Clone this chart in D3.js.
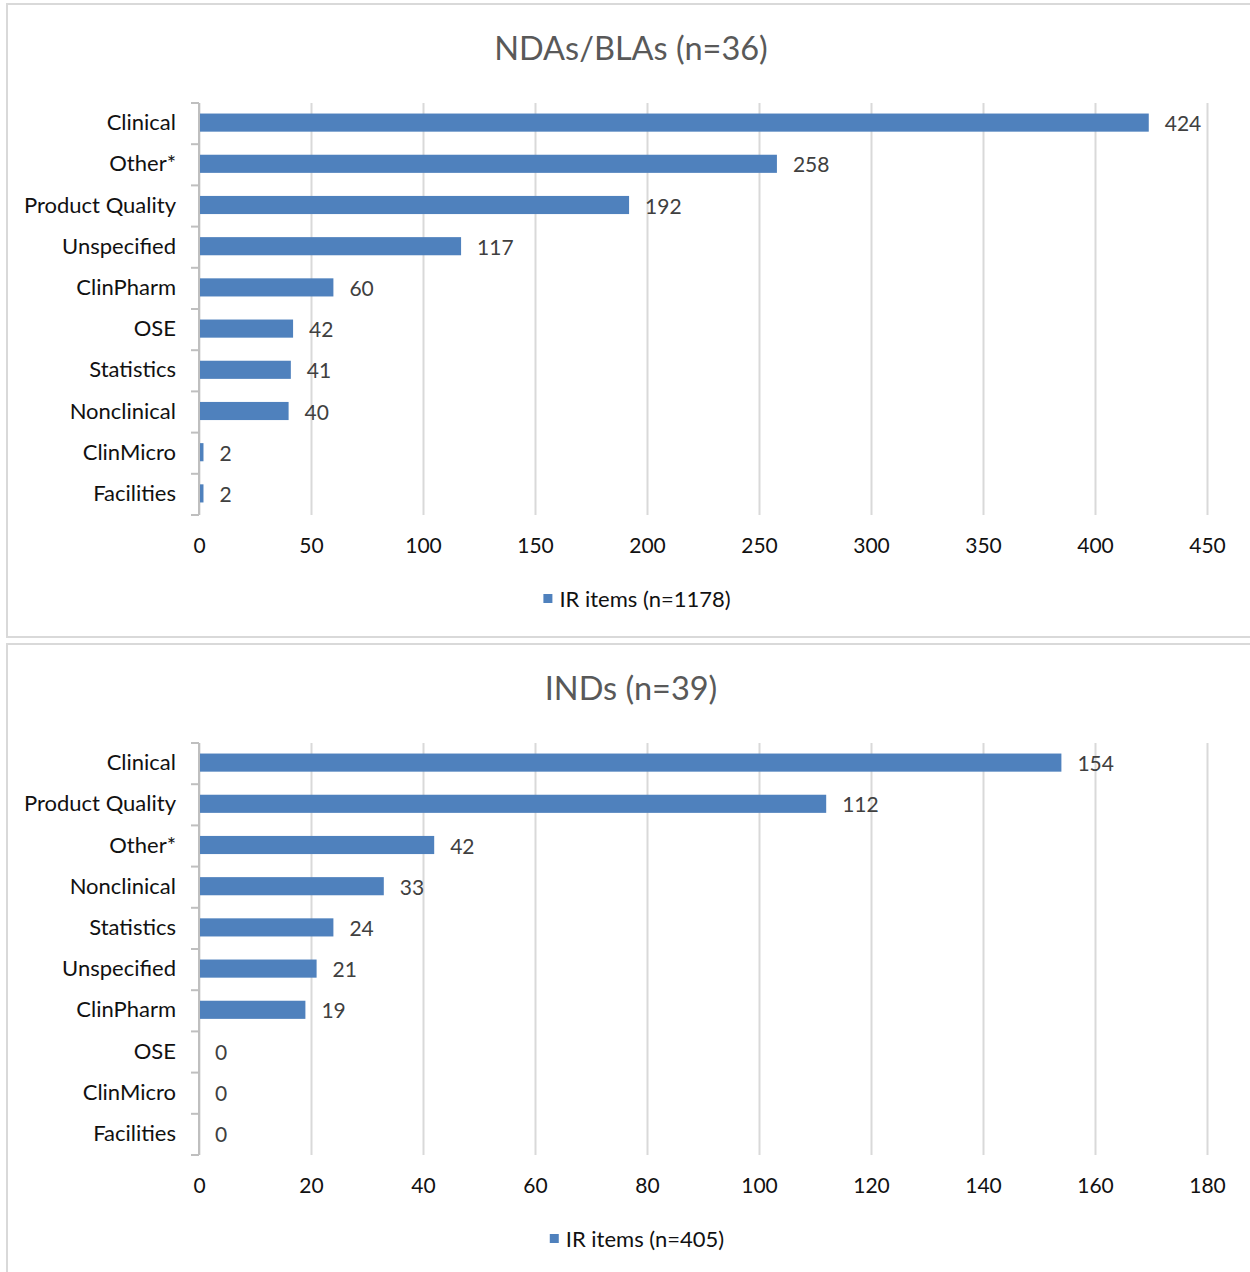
<!DOCTYPE html>
<html>
<head>
<meta charset="utf-8">
<script src="https://cdn.jsdelivr.net/npm/d3@7"></script>
<style>
  html, body { margin: 0; padding: 0; background: #fff; }
  svg { display: block; }
  text { font-family: Lato, "Open Sans", sans-serif; }
</style>
</head>
<body>
<svg id="chart" width="1250" height="1272"></svg>
<script>
// NDA/BLA information-request items by discipline
const ndaTitle = "NDAs/BLAs (n=36)";
const ndaCategories = ["Clinical", "Other*", "Product Quality", "Unspecified", "ClinPharm",
                       "OSE", "Statistics", "Nonclinical", "ClinMicro", "Facilities"];
const ndaValues = [424, 258, 192, 117, 60, 42, 41, 40, 2, 2];
const ndaTicks = [0, 50, 100, 150, 200, 250, 300, 350, 400, 450];
const ndaLegend = "IR items (n=1178)";

// IND information-request items by discipline
const indTitle = "INDs (n=39)";
const indCategories = ["Clinical", "Product Quality", "Other*", "Nonclinical", "Statistics",
                       "Unspecified", "ClinPharm", "OSE", "ClinMicro", "Facilities"];
const indValues = [154, 112, 42, 33, 24, 21, 19, 0, 0, 0];
const indTicks = [0, 20, 40, 60, 80, 100, 120, 140, 160, 180];
const indLegend = "IR items (n=405)";

const BAR = "#4f81bd";
const GRID = "#d9d9d9";
const AXIS = "#bfbfbf";

const svg = d3.select("#chart");

function drawPanel(top, bottom, title, categories, values, ticks, legend) {
  const g = svg.append("g");

  // panel frame
  g.append("rect")
    .attr("x", 7).attr("y", top)
    .attr("width", 1260).attr("height", bottom - top)
    .attr("fill", "#fff").attr("stroke", GRID).attr("stroke-width", 2);

  const plotTop = top + 99, plotBottom = top + 511;
  const x = d3.scaleLinear().domain([ticks[0], ticks[ticks.length - 1]]).range([199, 1207]);
  const y = d3.scaleBand().domain(categories).range([plotTop, plotBottom]).paddingInner(0.56).paddingOuter(0.28);

  // title
  g.append("text")
    .attr("x", 631).attr("y", top + 43)
    .attr("text-anchor", "middle").attr("dominant-baseline", "central")
    .attr("font-size", 32.5).attr("fill", "#595959")
    .text(title);

  // vertical gridlines
  g.append("g")
    .attr("transform", `translate(0,${plotBottom})`)
    .call(d3.axisBottom(x).tickValues(ticks).tickSize(-(plotBottom - plotTop)).tickFormat(""))
    .call(a => a.select(".domain").remove())
    .call(a => a.selectAll("line").attr("stroke", GRID).attr("stroke-width", 2));

  // tick labels
  g.append("g")
    .attr("transform", `translate(0,${plotBottom + 29})`)
    .call(d3.axisBottom(x).tickValues(ticks).tickSize(0).tickPadding(0).tickFormat(d3.format("d")))
    .call(a => a.select(".domain").remove())
    .call(a => a.selectAll("text")
      .attr("font-size", 21).attr("fill", "#111")
      .attr("dy", null).attr("dominant-baseline", "central")
      .style("font-family", "Lato, 'Open Sans', sans-serif"));

  // bars
  g.append("g").selectAll("rect")
    .data(categories.map((c, i) => ({ c, v: values[i] })))
    .join("rect")
    .attr("x", x(0) + 1)
    .attr("y", d => y(d.c) - 1)
    .attr("width", d => Math.max(0, x(d.v) - x(0) - 1))
    .attr("height", y.bandwidth())
    .attr("fill", BAR);

  // category axis with boundary ticks
  const step = y.step();
  const bounds = d3.range(categories.length + 1).map(i => plotTop + i * step);
  g.append("line")
    .attr("x1", 199).attr("x2", 199).attr("y1", plotTop).attr("y2", plotBottom)
    .attr("stroke", AXIS).attr("stroke-width", 2);
  g.append("g").selectAll("line")
    .data(bounds)
    .join("line")
    .attr("x1", 191).attr("x2", 199)
    .attr("y1", d => d).attr("y2", d => d)
    .attr("stroke", AXIS).attr("stroke-width", 2);

  // category labels
  g.append("g").selectAll("text")
    .data(categories)
    .join("text")
    .attr("x", 176)
    .attr("y", d => y(d) + y.bandwidth() / 2 - 2)
    .attr("text-anchor", "end").attr("dominant-baseline", "central")
    .attr("font-size", 22).attr("fill", "#111")
    .text(d => d);

  // value labels
  g.append("g").selectAll("text")
    .data(categories.map((c, i) => ({ c, v: values[i] })))
    .join("text")
    .attr("x", d => x(d.v) + 16)
    .attr("y", d => y(d.c) + y.bandwidth() / 2 - 1)
    .attr("dominant-baseline", "central")
    .attr("font-size", 21).attr("fill", "#404040")
    .text(d => d.v);

  // legend
  const legendY = top + 594;
  const lt = g.append("text")
    .attr("y", legendY)
    .attr("dominant-baseline", "central")
    .attr("font-size", 22).attr("fill", "#111")
    .text(legend);
  const tw = lt.node().getComputedTextLength();
  const total = 9 + 7 + tw;
  const startX = 637 - total / 2;
  g.append("rect")
    .attr("x", startX).attr("y", legendY - 4)
    .attr("width", 9).attr("height", 9)
    .attr("fill", BAR);
  lt.attr("x", startX + 16);
}

drawPanel(4, 637, ndaTitle, ndaCategories, ndaValues, ndaTicks, ndaLegend);
drawPanel(644, 1290, indTitle, indCategories, indValues, indTicks, indLegend);
</script>
</body>
</html>
